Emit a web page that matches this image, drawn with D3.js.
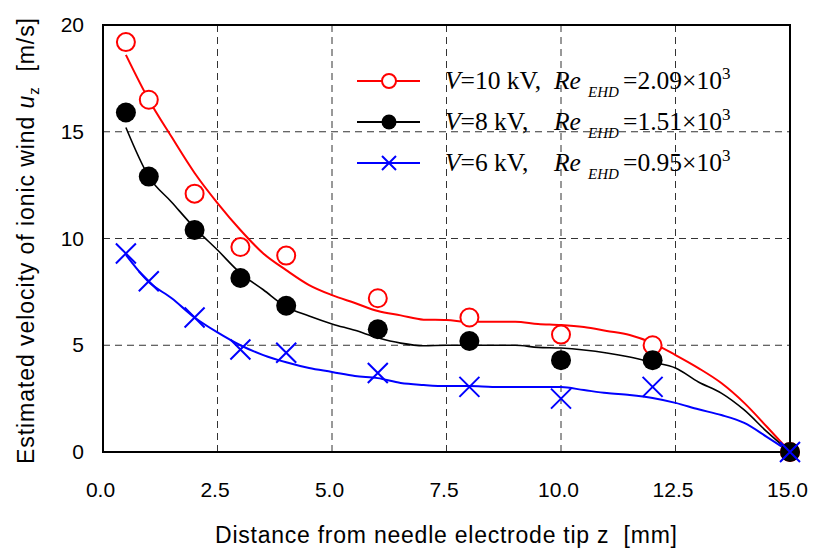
<!DOCTYPE html>
<html lang="en">
	<head>
		<meta charset="utf-8">
		<title>D3: Ionic wind velocity</title>
		<script src="https://cdn.jsdelivr.net/npm/d3@7"></script>
		<style type="text/css">
			body { margin: 0; background: #fff; }
			.tick text {
				font-family: "Liberation Sans", Arial, sans-serif;
				font-size: 21px;
				fill: #000;
			}
			.axisTitle {
				font-family: "Liberation Sans", Arial, sans-serif;
				font-size: 23px;
				fill: #000;
			}
			.grid line {
				stroke: #333;
				stroke-width: 1;
				stroke-dasharray: 7, 5;
			}
			.legend text {
				font-family: "Liberation Serif", "Times New Roman", serif;
				font-size: 25.5px;
				fill: #000;
			}
		</style>
	</head>
	<body>
		<script>
			//Width and height
			var w = 813;
			var h = 551;
			var margin = {top: 25, right: 23, bottom: 99, left: 103};

			//Measured points
			var zPts = [0.5, 1, 2, 3, 4, 6, 8, 10, 12, 15];
			var u10 = [19.2, 16.5, 12.1, 9.6, 9.2, 7.2, 6.3, 5.5, 5.0, 0];
			var u8 = [15.9, 12.9, 10.4, 8.15, 6.85, 5.75, 5.2, 4.3, 4.3, 0];
			var u6 = [9.3, 8.0, 6.3, 4.8, 4.65, 3.7, 3.05, 2.5, 3.05, 0];

			//Estimated curves
			var zFit = [0.5, 1, 1.5, 2, 2.5, 3, 3.5, 4, 4.5, 5, 5.5, 6, 6.5, 7, 7.5, 8, 8.5, 9, 9.5, 10, 10.5, 11, 11.5, 12, 12.5, 13, 13.5, 14, 14.5, 15];
			var fit10 = [18.6, 16.5, 14.75, 13.07, 11.66, 10.4, 9.3, 8.52, 7.82, 7.35, 6.98, 6.6, 6.4, 6.2, 6.18, 6.1, 6.1, 6.1, 6.0, 5.95, 5.85, 5.67, 5.48, 5.1, 4.54, 3.93, 3.23, 2.3, 1.17, 0];
			var fit8 = [15.2, 12.9, 11.7, 10.5, 9.46, 8.38, 7.6, 6.8, 6.37, 6.0, 5.7, 5.35, 5.1, 4.98, 5.0, 5.0, 5.0, 5.0, 4.9, 4.87, 4.78, 4.64, 4.45, 4.2, 3.93, 3.28, 2.76, 1.97, 0.94, 0];
			var fit6 = [9.23, 7.96, 7.2, 6.3, 5.6, 5.0, 4.54, 4.2, 3.93, 3.75, 3.56, 3.46, 3.23, 3.14, 3.09, 3.09, 3.05, 3.04, 3.04, 3.04, 2.9, 2.76, 2.67, 2.53, 2.3, 2.0, 1.73, 1.36, 0.7, 0];

			//Ticks
			var xTicks = [0, 2.5, 5, 7.5, 10, 12.5, 15];
			var yTicks = [0, 5, 10, 15, 20];

			var series = [
				{name: "10", re: "2.09", color: "red", marker: "open", pts: u10, fit: fit10},
				{name: "8", re: "1.51", color: "black", marker: "filled", pts: u8, fit: fit8},
				{name: "6", re: "0.95", color: "blue", marker: "cross", pts: u6, fit: fit6}
			];

			var xScale = d3.scaleLinear().domain([0, 15]).range([margin.left, w - margin.right]);
			var yScale = d3.scaleLinear().domain([0, 20]).range([h - margin.bottom, margin.top]);

			var svg = d3.select("body").append("svg")
						.attr("width", w)
						.attr("height", h);

			//Gridlines
			var grid = svg.append("g").attr("class", "grid");
			grid.selectAll(".vg")
				.data(xTicks.slice(1, -1))
				.enter().append("line")
				.attr("x1", function(d) { return xScale(d); })
				.attr("x2", function(d) { return xScale(d); })
				.attr("y1", yScale(0))
				.attr("y2", yScale(20));
			grid.selectAll(".hg")
				.data(yTicks.slice(1, -1))
				.enter().append("line")
				.attr("x1", xScale(0))
				.attr("x2", xScale(15))
				.attr("y1", function(d) { return yScale(d); })
				.attr("y2", function(d) { return yScale(d); });

			//Axes
			var xAxis = d3.axisBottom(xScale).tickValues(xTicks).tickSize(0).tickPadding(30).tickFormat(d3.format(".1f"));
			var yAxis = d3.axisLeft(yScale).tickValues(yTicks).tickSize(0).tickPadding(19);

			svg.append("g")
				.attr("transform", "translate(-3," + yScale(0) + ")")
				.call(xAxis)
				.call(function(g) { g.select(".domain").remove(); });
			svg.append("g")
				.attr("transform", "translate(" + xScale(0) + ",0)")
				.call(yAxis)
				.call(function(g) { g.select(".domain").remove(); });

			//Frame
			svg.append("rect")
				.attr("x", xScale(0))
				.attr("y", yScale(20))
				.attr("width", xScale(15) - xScale(0))
				.attr("height", yScale(0) - yScale(20))
				.attr("fill", "none")
				.attr("stroke", "#000")
				.attr("stroke-width", 2);

			//Curves
			var line = d3.line()
						.x(function(d) { return xScale(d[0]); })
						.y(function(d) { return yScale(d[1]); })
						.curve(d3.curveMonotoneX);

			series.forEach(function(s) {
				svg.append("path")
					.datum(d3.zip(zFit, s.fit))
					.attr("fill", "none")
					.attr("stroke", s.color)
					.attr("stroke-width", s.color == "black" ? 1.6 : 2)
					.attr("d", line);
			});

			//Markers
			function drawMarker(g, s, x, y, big) {
				if (s.marker == "open") {
					g.append("circle").attr("cx", x).attr("cy", y).attr("r", big ? 9 : 7)
						.attr("fill", "#fff").attr("stroke", s.color).attr("stroke-width", 2);
				} else if (s.marker == "filled") {
					g.append("circle").attr("cx", x).attr("cy", y).attr("r", big ? 10 : 7.5)
						.attr("fill", s.color);
				} else {
					var k = big ? 10 : 7;
					g.append("path")
						.attr("d", "M" + (x - k) + "," + (y - k) + "L" + (x + k) + "," + (y + k) +
							"M" + (x - k) + "," + (y + k) + "L" + (x + k) + "," + (y - k))
						.attr("stroke", s.color).attr("stroke-width", 2).attr("fill", "none");
				}
			}

			series.forEach(function(s) {
				var g = svg.append("g");
				s.pts.forEach(function(v, i) {
					drawMarker(g, s, xScale(zPts[i]), yScale(v), true);
				});
			});

			//Legend
			var legend = svg.append("g").attr("class", "legend");
			series.forEach(function(s, i) {
				var y = 81 + i * 41;
				legend.append("line")
					.attr("x1", 357).attr("x2", 420)
					.attr("y1", y).attr("y2", y)
					.attr("stroke", s.color).attr("stroke-width", 2);
				drawMarker(legend, s, 389, y, false);

				var t = legend.append("text").attr("x", 445).attr("y", y + 8);
				t.append("tspan").attr("font-style", "italic").text("V");
				t.append("tspan").text("=" + s.name + " kV,");
				t.append("tspan").attr("x", 554).attr("font-style", "italic").text("Re");
				t.append("tspan").attr("x", 588).attr("dy", 8).attr("font-style", "italic")
					.attr("font-size", "15px").text("EHD");
				t.append("tspan").attr("x", 623).attr("dy", -8).text("=" + s.re + "×10");
				t.append("tspan").attr("dy", -10).attr("font-size", "17px").text("3");
			});

			//Axis titles
			svg.append("text")
				.attr("class", "axisTitle")
				.attr("x", 215)
				.attr("y", 543)
				.attr("textLength", 462)
				.attr("lengthAdjust", "spacing")
				.attr("xml:space", "preserve")
				.text("Distance from needle electrode tip z  [mm]");

			var yt = svg.append("text")
				.attr("class", "axisTitle")
				.attr("transform", "translate(34,464) rotate(-90)")
				.attr("textLength", 446)
				.attr("lengthAdjust", "spacing")
				.attr("xml:space", "preserve");
			yt.append("tspan").text("Estimated velocity of ionic wind ");
			yt.append("tspan").attr("font-style", "italic").text("u");
			yt.append("tspan").attr("font-size", "15px").attr("dy", 5).text("z");
			yt.append("tspan").attr("dy", -5).text("  [m/s]");
		</script>
	</body>
</html>
